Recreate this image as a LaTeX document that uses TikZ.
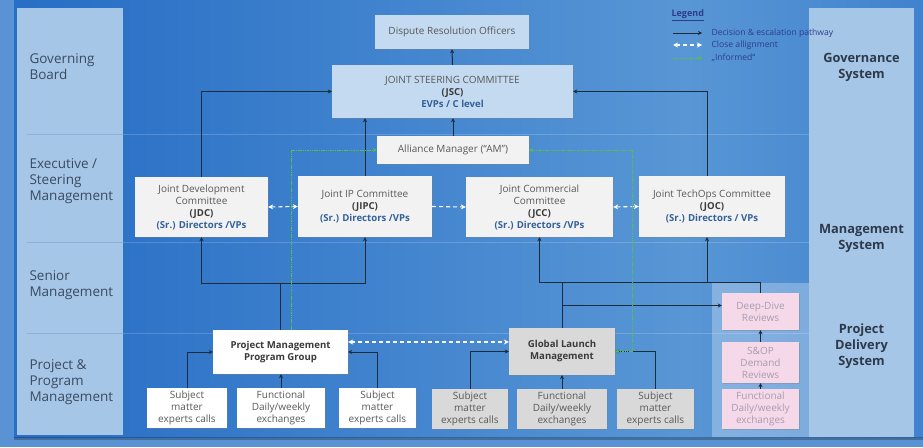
\documentclass[tikz,border=0pt]{standalone}
\usepackage{fontspec}
\setmainfont{Open Sans}
\usetikzlibrary{arrows.meta,shadows,calc}

\definecolor{outerbg}{HTML}{5A93D3}
\definecolor{sidecol}{HTML}{A6C6E8}
\definecolor{sepline}{HTML}{8DB0D8}
\definecolor{labeltxt}{HTML}{3B4A5E}
\definecolor{systxt}{HTML}{2D3A4A}
\definecolor{jscfill}{HTML}{C3DAF0}
\definecolor{boxfill}{HTML}{F2F2F2}
\definecolor{grayfill}{HTML}{D9D9D9}
\definecolor{pinkfill}{HTML}{F5D9E9}
\definecolor{pinktxt}{HTML}{A89CB0}
\definecolor{bodytxt}{HTML}{595959}
\definecolor{darktxt}{HTML}{3A3A3A}
\definecolor{roletxt}{HTML}{33609A}
\definecolor{linecol}{HTML}{1D2B3A}
\definecolor{infocol}{HTML}{55C246}
\definecolor{legtxt}{HTML}{2E3C8C}

% main panel: dark blue at the left, lighter towards the centre-right
\pgfdeclarehorizontalshading{panelshade}{100bp}{
  color(0bp)=(rgb,255:red,27;green,94;blue,186);
  color(30bp)=(rgb,255:red,44;green,114;blue,199);
  color(62bp)=(rgb,255:red,88;green,150;blue,213);
  color(84bp)=(rgb,255:red,48;green,116;blue,200);
  color(100bp)=(rgb,255:red,36;green,106;blue,194)}

\tikzset{
  base/.style={align=center, inner sep=1pt, text=bodytxt,
    font=\fontsize{10}{12}\selectfont,
    drop shadow={shadow xshift=1pt, shadow yshift=-1pt, opacity=.35}},
  lightbox/.style={base, fill=boxfill},
  whitebox/.style={base, fill=white},
  greybox/.style={base, fill=grayfill},
  pinkbox/.style={base, fill=pinkfill, text=pinktxt},
  bluebox/.style={base, fill=jscfill},
  flow/.style={draw=linecol, line width=1pt, -{Stealth[length=4pt,width=4pt]}},
  plain/.style={draw=linecol, line width=1pt},
  align2/.style={draw=white, line width=1.1pt, dash pattern=on 4pt off 3pt,
    {Stealth[length=5pt,width=5pt]}-{Stealth[length=5pt,width=5pt]}},
  align1/.style={draw=white, line width=1.1pt, dash pattern=on 4pt off 3pt,
    -{Stealth[length=5pt,width=5pt]}},
  inform/.style={draw=infocol, line width=.9pt, dash pattern=on 1.5pt off .8pt,
    -{Stealth[length=4pt,width=4pt]}},
  inform2/.style={inform, {Stealth[length=4pt,width=4pt]}-{Stealth[length=4pt,width=4pt]}},
  rowlabel/.style={anchor=west, align=left, text=labeltxt,
    font=\fontsize{13.5}{16}\selectfont},
  syslabel/.style={align=center, text=systxt,
    font=\fontsize{12.8}{16}\selectfont\bfseries},
  legendtxt/.style={anchor=west, text=legtxt, font=\fontsize{8.6}{10}\selectfont},
}

\newcommand{\abbr}[1]{{\fontsize{9.6}{12}\selectfont\bfseries\color{darktxt}#1}}
\newcommand{\role}[1]{{\fontsize{9.6}{12}\selectfont\bfseries\color{roletxt}#1}}

\begin{document}
\begin{tikzpicture}[x=1pt,y=-1pt]
\useasboundingbox (0,0) rectangle (923,447);

% background and main panel
\fill[outerbg] (0,0) rectangle (923,447);
\shade[shading=panelshade] (14,0) rectangle (923,437);
\fill[black, opacity=.25] (14,437) rectangle (923,440);

% row separators
\foreach \yy in {134,242,333}{
  \draw[white, opacity=.18, line width=.6pt] (123,\yy) -- (809,\yy);
}

% side columns
\fill[sidecol] (17,8) rectangle (123,435);
\foreach \yy in {134,242,333}{
  \draw[sepline, line width=.6pt] (27,\yy) -- (123,\yy);
}
\fill[sidecol] (809,8) rectangle (914,437);
\fill[white, opacity=.28] (712,283) rectangle (809,437);

% row labels
\node[rowlabel] (lgov) at (26,67) {Governing\\Board};
\node[rowlabel] (lexe) at (26,181) {Executive /\\Steering\\Management};
\node[rowlabel] (lsen) at (26,285) {Senior\\Management};
\node[rowlabel] (lpro) at (26,382) {Project \&\\Program\\Management};

% system labels
\node[syslabel] (sgov) at (861.5,67) {Governance\\System};
\node[syslabel] (smgt) at (861.5,238) {Management\\System};
\node[syslabel] (sdel) at (861.5,346) {Project\\Delivery\\System};

% legend
\node[anchor=west, text=legtxt, font=\fontsize{9}{11}\selectfont\bfseries] (leg) at (668,15) {\underline{Legend}};
\coordinate (l1a) at (673,33); \coordinate (l1b) at (702,33);
\coordinate (l2a) at (673,45); \coordinate (l2b) at (702,45);
\coordinate (l3a) at (673,58); \coordinate (l3b) at (702,58);
\draw[flow] (l1a) -- (l1b);
\draw[align2] (l2a) -- (l2b);
\draw[inform] (l3a) -- (l3b);
\node[legendtxt] (lt1) at (708,33) {Decision \& escalation pathway};
\node[legendtxt] (lt2) at (708,45) {Close allignment};
\node[legendtxt] (lt3) at (708,58) {„Informed“};

% governance level
\node[bluebox, minimum width=154pt, minimum height=34pt] (dro) at (452,32) {Dispute Resolution Officers};
\node[bluebox, minimum width=241pt, minimum height=53pt] (jsc) at (452.5,91.5)
  {JOINT STEERING COMMITTEE\\\abbr{(JSC)}\\\role{EVPs / C level}};
\node[lightbox, minimum width=152pt, minimum height=28pt] (am) at (453,150) {Alliance Manager (“AM”)};

% executive / steering committees
\node[lightbox, minimum width=133pt, minimum height=60pt] (jdc) at (201.5,207)
  {Joint Development\\Committee\\\abbr{(JDC)}\\\role{(Sr.) Directors /VPs}};
\node[lightbox, minimum width=134pt, minimum height=61pt] (jipc) at (365,206.5)
  {Joint IP Committee\\\abbr{(JIPC)}\\\role{(Sr.) Directors /VPs}};
\node[lightbox, minimum width=147pt, minimum height=60pt] (jcc) at (539.5,207)
  {Joint Commercial\\Committee\\\abbr{(JCC)}\\\role{(Sr.) Directors /VPs}};
\node[lightbox, minimum width=146pt, minimum height=61pt] (joc) at (712,206.5)
  {Joint TechOps Committee\\\abbr{(JOC)}\\\role{(Sr.) Directors / VPs}};

% project and program level
\node[whitebox, minimum width=135pt, minimum height=44pt,
  font=\fontsize{9.6}{12}\selectfont\bfseries, text=darktxt] (pmpg) at (280.5,352)
  {Project Management\\Program Group};
\node[greybox, minimum width=106pt, minimum height=47pt,
  font=\fontsize{9.6}{12}\selectfont\bfseries, text=darktxt] (glm) at (562,351.5)
  {Global Launch\\Management};

\node[whitebox, minimum width=80pt, minimum height=40pt] (sme1) at (187,408) {Subject\\matter\\experts calls};
\node[whitebox, minimum width=88pt, minimum height=40pt] (fun1) at (281,408) {Functional\\Daily/weekly\\exchanges};
\node[whitebox, minimum width=77pt, minimum height=40pt] (sme2) at (377.5,408) {Subject\\matter\\experts calls};

\node[greybox, minimum width=76pt, minimum height=40pt] (sme3) at (470,409) {Subject\\matter\\experts calls};
\node[greybox, minimum width=90pt, minimum height=40pt] (fun2) at (562,409) {Functional\\Daily/weekly\\exchanges};
\node[greybox, minimum width=77pt, minimum height=40pt] (sme4) at (655.5,409) {Subject\\matter\\experts calls};

% project delivery reviews
\node[pinkbox, minimum width=77pt, minimum height=37pt] (dd) at (760.5,311.5) {Deep-Dive\\Reviews};
\node[pinkbox, minimum width=77pt, minimum height=41pt] (sop) at (760.5,362.5) {S\&OP\\Demand\\Reviews};
\node[pinkbox, minimum width=77pt, minimum height=40pt] (fun3) at (760.5,409) {Functional\\Daily/weekly\\exchanges};

% decision & escalation pathways
\draw[flow] (jsc.north) -- (dro.south);
\draw[flow] (am.north) -- (am.north |- jsc.south);
\draw[flow] (jdc.north) |- (jsc.west);
\draw[flow] ([xshift=-5pt]joc.north) |- (jsc.east);
\draw[flow] (jipc.north) -- (jipc.north |- jsc.south);

\coordinate (pj) at ($(pmpg.north |- 0,283)$);
\draw[plain] (pmpg.north) -- (pj);
\draw[flow] (pj) -| (jdc.south);
\draw[flow] (pj) -| (jipc.south);

\coordinate (gj) at ($(glm.north |- 0,282)$);
\coordinate (jocin) at ([xshift=-5pt]joc.south);
\draw[plain] (glm.north) -- (gj);
\draw[flow] (gj) -| (jcc.south);
\draw[flow] (gj) -| (jocin);
\draw[flow] ([yshift=6pt]dd.west -| glm.north) -- ([yshift=6pt]dd.west);
\draw[plain] (dd.north) |- (jocin |- gj);
\draw[flow] (sop.north) -- (dd.south);
\draw[flow] (fun3.north) -- (sop.south);

\draw[flow] (sme1.north) |- (pmpg.west);
\draw[flow] (fun1.north) -- (fun1.north |- pmpg.south);
\draw[flow] (sme2.north) |- (pmpg.east);
\draw[flow] (sme3.north) |- (glm.west);
\draw[flow] (fun2.north) -- (glm.south);
\draw[flow] (sme4.north) |- (glm.east);

% close alignment
\draw[align2] (jdc.east) -- (jipc.west);
\draw[align1] (jipc.east) -- (jcc.west);
\draw[align2] (jcc.east) -- (joc.west);
\draw[align2] ([yshift=10pt]pmpg.east) -- ([yshift=10pt]pmpg.east -| glm.west);

% informed
\coordinate (gr) at (632,0);
\draw[inform] ([xshift=11pt]pmpg.north) |- (am.west);
\draw[inform2] (glm.east) -| (gr |- am.east) -- (am.east);
\end{tikzpicture}
\end{document}
